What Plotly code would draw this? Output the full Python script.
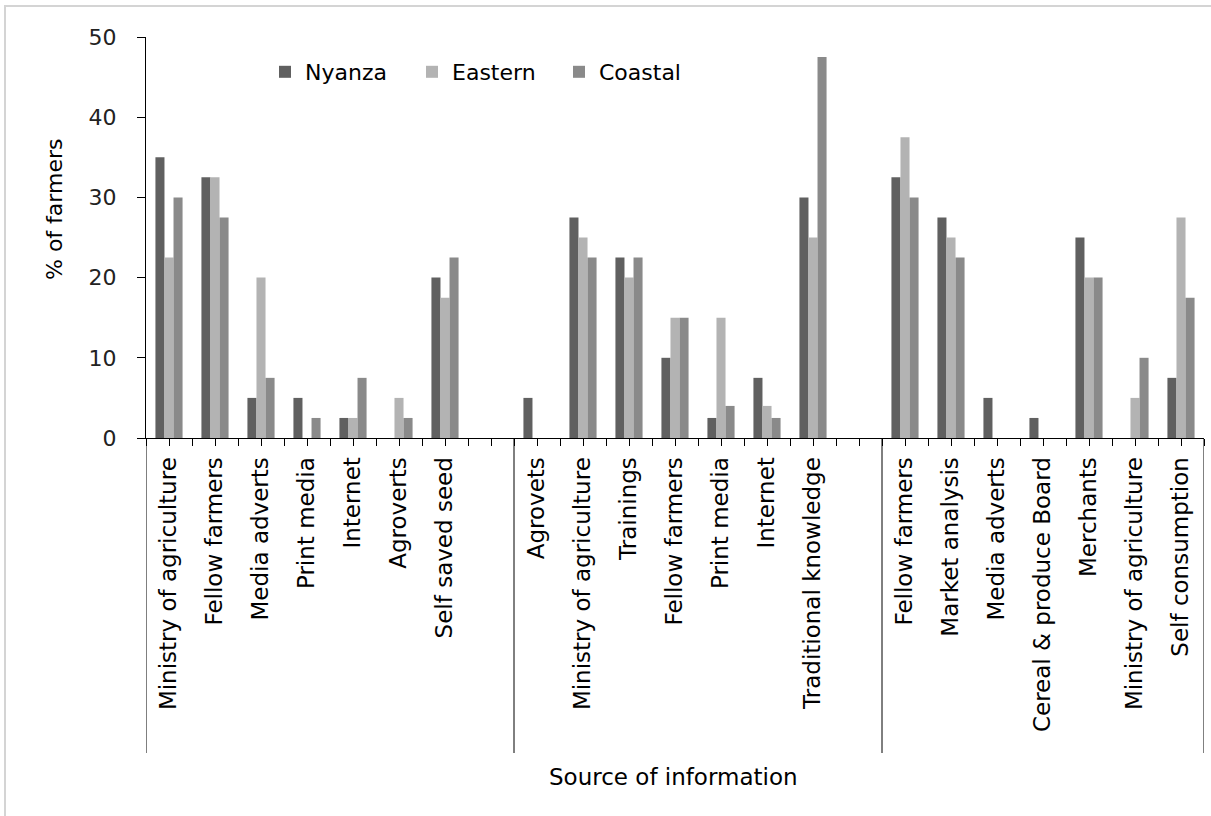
import plotly.graph_objects as go

# ---- data ----
categories = [
    "Ministry of agriculture", "Fellow farmers", "Media adverts", "Print media",
    "Internet", "Agroverts", "Self saved seed", "",
    "Agrovets", "Ministry of agriculture", "Trainings", "Fellow farmers",
    "Print media", "Internet", "Traditional knowledge", "",
    "Fellow farmers", "Market analysis", "Media adverts", "Cereal & produce Board",
    "Merchants", "Ministry of agriculture", "Self consumption",
]
group_sizes = [8, 8, 7]
series_names = ["Nyanza", "Eastern", "Coastal"]
nyanza = [35, 32.5, 5, 5, 2.5, 0, 20, 0,
          5, 27.5, 22.5, 10, 2.5, 7.5, 30, 0,
          32.5, 27.5, 5, 2.5, 25, 0, 7.5]
eastern = [22.5, 32.5, 20, 0, 2.5, 5, 17.5, 0,
           0, 25, 20, 15, 15, 4, 25, 0,
           37.5, 25, 0, 0, 20, 5, 27.5]
coastal = [30, 27.5, 7.5, 2.5, 7.5, 2.5, 22.5, 0,
           0, 22.5, 22.5, 15, 4, 2.5, 47.5, 0,
           30, 22.5, 0, 0, 20, 10, 17.5]
y_ticks = [0, 10, 20, 30, 40, 50]

colors = ["#606060", "#b3b3b3", "#8a8a8a"]
FONT = "DejaVu Sans"

# ---- layout geometry (pixels) ----
W, H = 1211, 816
L, R, T, B = 146, 7, 37, 378
pw, ph = W - L - R, H - T - B

def px_x(p):
    return (p - L) / pw

def px_y(p):
    return (H - B - p) / ph

x = list(range(len(categories)))

fig = go.Figure()
for name, vals, col in zip(series_names, [nyanza, eastern, coastal], colors):
    fig.add_trace(go.Bar(x=x, y=vals, name=name, marker=dict(color=col, line=dict(width=0))))

# group separators
breaks = [-0.5]
for g in group_sizes:
    breaks.append(breaks[-1] + g)
shapes = []
for b in breaks:
    shapes.append(dict(type="line", xref="x", yref="paper", x0=b, x1=b, y0=0, y1=px_y(753),
                       line=dict(color="black", width=1)))
# page frame (light grey)
shapes.append(dict(type="line", xref="paper", yref="paper", x0=px_x(4), x1=px_x(1215),
                   y0=px_y(6), y1=px_y(6), line=dict(color="#d4d4d4", width=2)))
shapes.append(dict(type="line", xref="paper", yref="paper", x0=px_x(5), x1=px_x(5),
                   y0=px_y(6), y1=px_y(820), line=dict(color="#d4d4d4", width=2)))

annotations = [
    dict(text="% of farmers", xref="paper", yref="paper", x=px_x(54), y=px_y(210),
         textangle=-90, showarrow=False, font=dict(family=FONT, size=22, color="black"),
         xanchor="center", yanchor="middle"),
    dict(text="Source of information", xref="paper", yref="paper", x=px_x(673), y=px_y(777),
         showarrow=False, font=dict(family=FONT, size=23, color="black"),
         xanchor="center", yanchor="middle"),
]

fig.update_layout(
    width=W, height=H,
    margin=dict(l=L, r=R, t=T, b=B, pad=0),
    paper_bgcolor="white", plot_bgcolor="white",
    barmode="group", bargap=0.41, bargroupgap=0,
    font=dict(family=FONT, color="black"),
    showlegend=True,
    legend=dict(orientation="h", x=px_x(265), y=px_y(72), xanchor="left", yanchor="middle",
                entrywidth=102, entrywidthmode="pixels", font=dict(family=FONT, size=22),
                bgcolor="rgba(0,0,0,0)", traceorder="normal"),
    shapes=shapes, annotations=annotations,
    xaxis=dict(range=[-0.5, len(categories) - 0.5], tickmode="array", tickvals=x,
               ticktext=categories, tickangle=-90, ticks="outside", ticklen=7,
               tickcolor="black", showline=True, linecolor="black", linewidth=1,
               showgrid=False, zeroline=False, ticklabelstandoff=2,
               tickfont=dict(family=FONT, size=23, color="black"),
               minor=dict(tickvals=[i - 0.5 for i in range(len(categories) + 1)],
                          ticks="outside", ticklen=7, tickcolor="black", showgrid=False),
               automargin=False),
    yaxis=dict(range=[0, 50], tickmode="array", tickvals=y_ticks, ticks="outside", ticklen=8,
               tickcolor="black", showline=True, linecolor="black", linewidth=1,
               showgrid=False, zeroline=False, ticklabelstandoff=16,
               tickfont=dict(family=FONT, size=22, color="#222222"), automargin=False),
)

fig.write_html("out.html", config={"displayModeBar": False},
               post_script="document.body.style.margin='0';document.body.style.overflow='hidden';")
